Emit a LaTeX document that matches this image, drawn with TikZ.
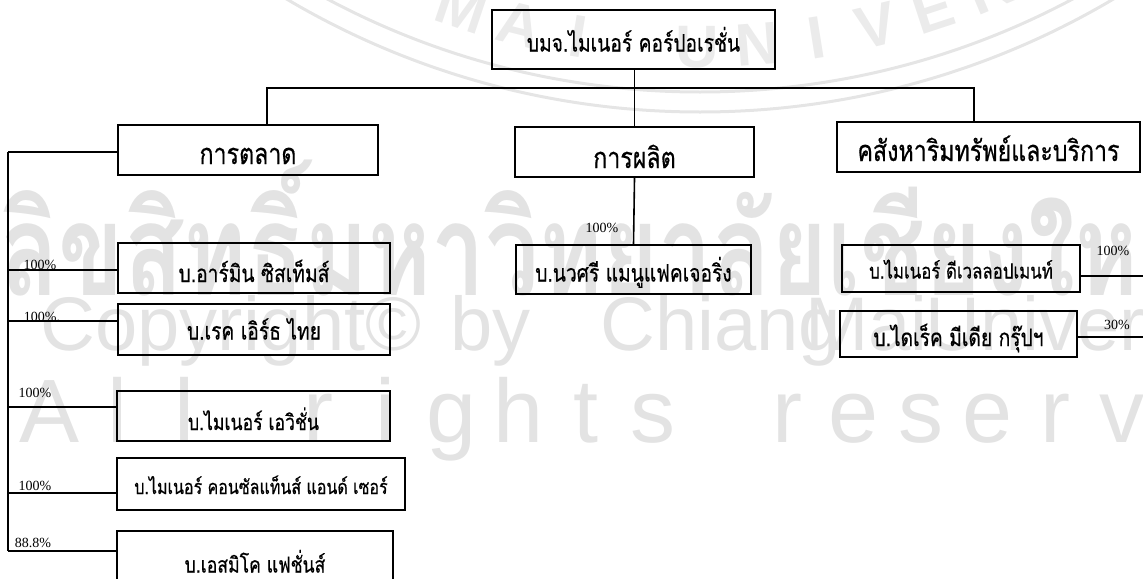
\documentclass[tikz,border=0pt]{standalone}
\usepackage{fontspec}
\setmainfont{Liberation Serif}
\newfontfamily\thai[Script=Thai,FakeStretch=0.8,FakeBold=0.5]{Loma}
\newfontfamily\thaiwm[Script=Thai,FakeStretch=0.75]{Loma}
\newfontfamily\wmsans{Liberation Sans}
\begin{document}
\begin{tikzpicture}[x=0.5pt,y=-0.5pt,
  unit/.style={draw, line width=1.1pt, inner sep=0pt, text height=13pt, text depth=1pt, font=\thai\fontsize{12}{14}\selectfont},
  dept/.style={unit, text height=15pt, font=\thai\fontsize{14.5}{16}\selectfont},
  wire/.style={line width=0.8pt},
  pct/.style={font=\fontsize{7}{8}\selectfont, inner sep=0pt},
  wmark/.style={text=black!11, inner sep=0pt}]
\useasboundingbox (0,0) rectangle (1143,578);
\draw[black!10, line width=1.5pt] (700,-700) circle (812);
\draw[black!10, line width=1.5pt] (700,-700) circle (792);
\foreach \ch [count=\i] in {M,A,I,,U,N,I,V,E,R,S,I,T,Y} {
  \pgfmathsetmacro{\a}{(\i-2)*4.6-14}
  \pgfmathsetmacro{\b}{90-\a}
  \node[wmark, text=black!8, font=\wmsans\bfseries\fontsize{30}{32}\selectfont, rotate=\a] (seal\i) at ([shift={(\b:747)}]700,-700) {\ch};
}
\node[wmark, font=\thaiwm\bfseries\fontsize{64}{70}\selectfont, anchor=west] (wmth) at (0,228) {ลิขสิทธิ์มหาวิทยาลัยเชียงใหม่};
\foreach \w/\x in {Copyright©/40,by/450,Chiang/600,Mai/805,University/925} {
  \node[wmark, font=\wmsans\fontsize{38}{40}\selectfont, anchor=base west] (wm\x) at (\x,350) {\w};
}
\foreach \ch [count=\i] in {A,l,l,,r,i,g,h,t,s,,r,e,s,e,r,v,e,d} {
  \node[wmark, font=\wmsans\fontsize{45}{50}\selectfont, anchor=base] (wmar\i) at (50+\i*67-67,442) {\ch};
}
\node[unit, minimum width=141.5pt, minimum height=29.5pt] (hq) at (633.5,39.5) {บมจ.ไมเนอร์ คอร์ปอเรชั่น};
\node[dept, minimum width=130pt, minimum height=25pt] (mkt) at (248,150) {การตลาด};
\node[dept, text height=17pt, minimum width=119.5pt, minimum height=25pt] (prod) at (634.5,152) {การผลิต};
\node[dept, minimum width=151.5pt, minimum height=25pt] (prop) at (988.5,147) {คสังหาริมทรัพย์และบริการ};
\node[unit, minimum width=117.5pt, minimum height=24.5pt] (nava) at (633.5,269.5) {บ.นวศรี แมนูแฟคเจอริ่ง};
\node[unit, text height=11pt, font=\thai\fontsize{10.5}{12}\selectfont, minimum width=119pt, minimum height=23.5pt] (dev) at (961,268.5) {บ.ไมเนอร์ ดีเวลลอปเมนท์};
\node[unit, minimum width=118.5pt, minimum height=23pt] (direct) at (958.5,334) {บ.ไดเร็ค มีเดีย กรุ๊ปฯ};
\node[unit, text height=15pt, minimum width=136pt, minimum height=25pt] (armin) at (254,268) {บ.อาร์มิน ซิสเท็มส์};
\node[unit, text height=11pt, minimum width=136pt, minimum height=25.5pt] (redearth) at (254,329.5) {บ.เรค เอิร์ธ ไทย};
\node[unit, text height=15pt, font=\thai\fontsize{11}{13}\selectfont, minimum width=136.5pt, minimum height=25pt] (avi) at (253.5,416) {บ.ไมเนอร์ เอวิชั่น};
\node[unit, text height=11pt, font=\thai\fontsize{10}{12}\selectfont, minimum width=144pt, minimum height=26pt] (cons) at (261,484) {บ.ไมเนอร์ คอนซัลแท็นส์ แอนด์ เซอร์};
\node[unit, font=\thai\fontsize{11}{13}\selectfont, minimum width=138pt, minimum height=29.5pt] (esm) at (255,560.5) {บ.เอสมิโค แฟชั่นส์};
\coordinate (busL) at (267,88);
\coordinate (busR) at (974,88);
\draw[wire] (hq.south -| prod.north) -- (prod.north);
\draw[wire] (busL |- mkt.north) -- (busL) -- (busR) -- (busR |- prop.north);
\draw[wire] (prod.south) -- (nava.north);
\node[pct] (pnava) at (602,228) {100\%};
\coordinate (lt) at (8,152);
\coordinate (lb) at (8,551);
\draw[wire] (lt) -- (lb);
\draw[wire] (lt) -- (lt -| mkt.west);
\foreach \n/\y/\p/\px/\py in {armin/270/100\%/40/265,redearth/321/100\%./42/317,avi/407/100\%/35/393,cons/493/100\%/35/486,esm/551/88.8\%/33/543} {
  \coordinate (t\n) at (8,\y);
  \draw[wire] (t\n) -- (t\n -| \n.west);
  \node[pct] (p\n) at (\px,\py) {\p};
}
\coordinate (edev) at (1150,276);
\coordinate (edir) at (1150,337);
\draw[wire] (edev -| dev.east) -- (edev);
\draw[wire] (edir -| direct.east) -- (edir);
\node[pct] (pdev) at (1113,251) {100\%};
\node[pct] (pdir) at (1117,325) {30\%};
\end{tikzpicture}
\end{document}
